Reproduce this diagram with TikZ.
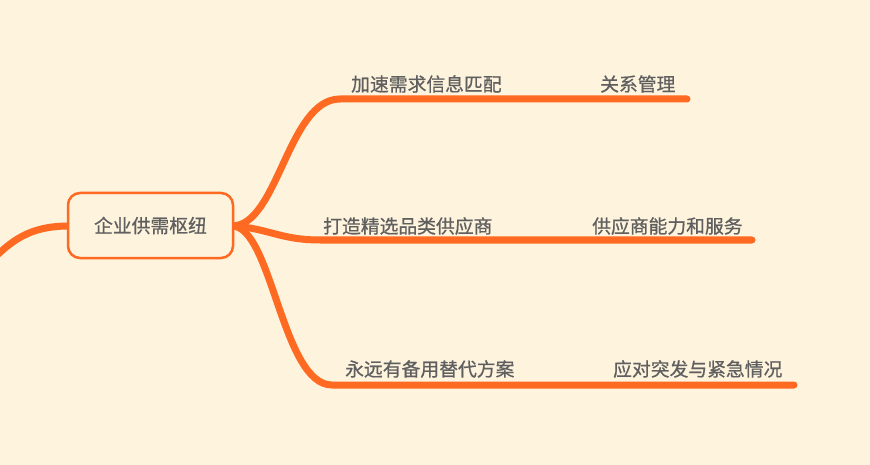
\documentclass[tikz,border=0pt]{standalone}
\usepackage{fontspec}
\setmainfont{Noto Sans CJK SC}
\newfontfamily\cjkm[FakeBold=0.7]{Noto Sans CJK SC}
\definecolor{bg}{HTML}{FEF3DD}
\definecolor{br}{HTML}{FF6A22}
\definecolor{tx}{HTML}{5F5F5F}
\begin{document}
\begin{tikzpicture}[x=1pt,y=-1pt,
  branch/.style={draw=br,line width=7pt,line cap=round},
  lbl/.style={text=tx,font=\cjkm\fontsize{18.8}{20}\selectfont,inner sep=0pt,anchor=west},
  hub/.style={draw=br,line width=2.5pt,fill=bg,rounded corners=12pt,minimum width=165pt,minimum height=65pt,text=tx,font=\cjkm\fontsize{18.8}{20}\selectfont}]
\fill[bg] (0,0) rectangle (870,465);
\useasboundingbox (0,0) rectangle (870,465);
\coordinate (lout) at (-10,262);
\coordinate (e1) at (687,99);
\coordinate (e2) at (752,240);
\coordinate (e3) at (794,385);
\coordinate (h1) at (340,99);
\coordinate (h2) at (320,240);
\coordinate (h3) at (332,385);
\coordinate (hr) at (232,226);
\coordinate (hl) at (69,226);
\begin{scope}
\clip (0,0) rectangle (870,465);
\draw[branch] (hl) .. controls (30,226) and (12,240) .. (lout);
\end{scope}
\draw[branch] (hr) .. controls (278,226) and (288,99) .. (h1) -- (e1);
\draw[branch] (hr) .. controls (268,228) and (280,240) .. (h2) -- (e2);
\draw[branch] (hr) .. controls (272,226) and (282,385) .. (h3) -- (e3);
\node[hub] (hub) at (150.5,225.5) {企业供需枢纽};
\node[lbl] (a1) at (351,84) {加速需求信息匹配};
\node[lbl] (b1) at (600,84) {关系管理};
\node[lbl] (a2) at (323,226) {打造精选品类供应商};
\node[lbl] (b2) at (592,226) {供应商能力和服务};
\node[lbl] (a3) at (345,369) {永远有备用替代方案};
\node[lbl] (b3) at (613,369) {应对突发与紧急情况};
\end{tikzpicture}
\end{document}
